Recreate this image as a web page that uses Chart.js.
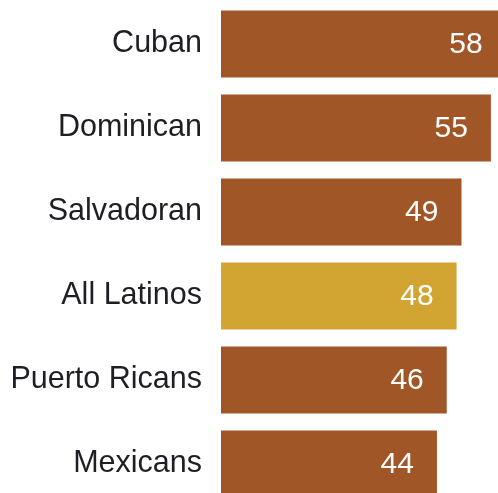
<!DOCTYPE html>
<html>
<head>
<meta charset="utf-8">
<script src="https://cdn.jsdelivr.net/npm/chart.js"></script>
<style>
  html, body { margin: 0; padding: 0; background: #fff; overflow: hidden; }
  #wrap { position: relative; width: 540px; height: 510px; }
</style>
</head>
<body>
<div id="wrap"><canvas id="chart"></canvas></div>
<script>
  const categories = ['Cuban', 'Dominican', 'Salvadoran', 'All Latinos', 'Puerto Ricans', 'Mexicans'];
  const values = [58, 55, 49, 48, 46, 44];
  const highlight = 'All Latinos';

  const BROWN = '#A15627';
  const GOLD = '#D2A532';
  const FONT = "'Liberation Sans', Arial, sans-serif";

  // white value text drawn just inside the end of each bar
  const valueLabels = {
    id: 'valueLabels',
    afterDatasetsDraw(chart) {
      const ctx = chart.ctx;
      const meta = chart.getDatasetMeta(0);
      ctx.save();
      ctx.font = '30px ' + FONT;
      ctx.fillStyle = '#ffffff';
      ctx.textAlign = 'right';
      ctx.textBaseline = 'middle';
      meta.data.forEach((bar, i) => {
        ctx.fillText(String(values[i]), bar.x - 23, bar.y + 1);
      });
      ctx.restore();
    },
  };

  new Chart(document.getElementById('chart'), {
    type: 'bar',
    data: {
      labels: categories,
      datasets: [
        {
          data: values,
          backgroundColor: categories.map((c) => (c === highlight ? GOLD : BROWN)),
          borderWidth: 0,
          barPercentage: 0.8,
          categoryPercentage: 1,
        },
      ],
    },
    options: {
      indexAxis: 'y',
      responsive: true,
      maintainAspectRatio: false,
      animation: false,
      layout: { padding: { top: 2, bottom: 4, left: 0, right: 0 } },
      plugins: {
        legend: { display: false },
        tooltip: { enabled: false },
      },
      scales: {
        x: {
          display: false,
          min: 0,
          max: 65,
        },
        y: {
          grid: { display: false, drawTicks: false },
          border: { display: false },
          ticks: {
            padding: 19,
            color: '#1e1e24',
            font: { family: FONT, size: 30.5 },
          },
          afterFit(scale) {
            // fixed label column; labels sit at band centres so no edge padding is needed
            scale.width = 221;
            scale.paddingTop = 0;
            scale.paddingBottom = 0;
          },
        },
      },
    },
    plugins: [valueLabels],
  });
</script>
</body>
</html>
